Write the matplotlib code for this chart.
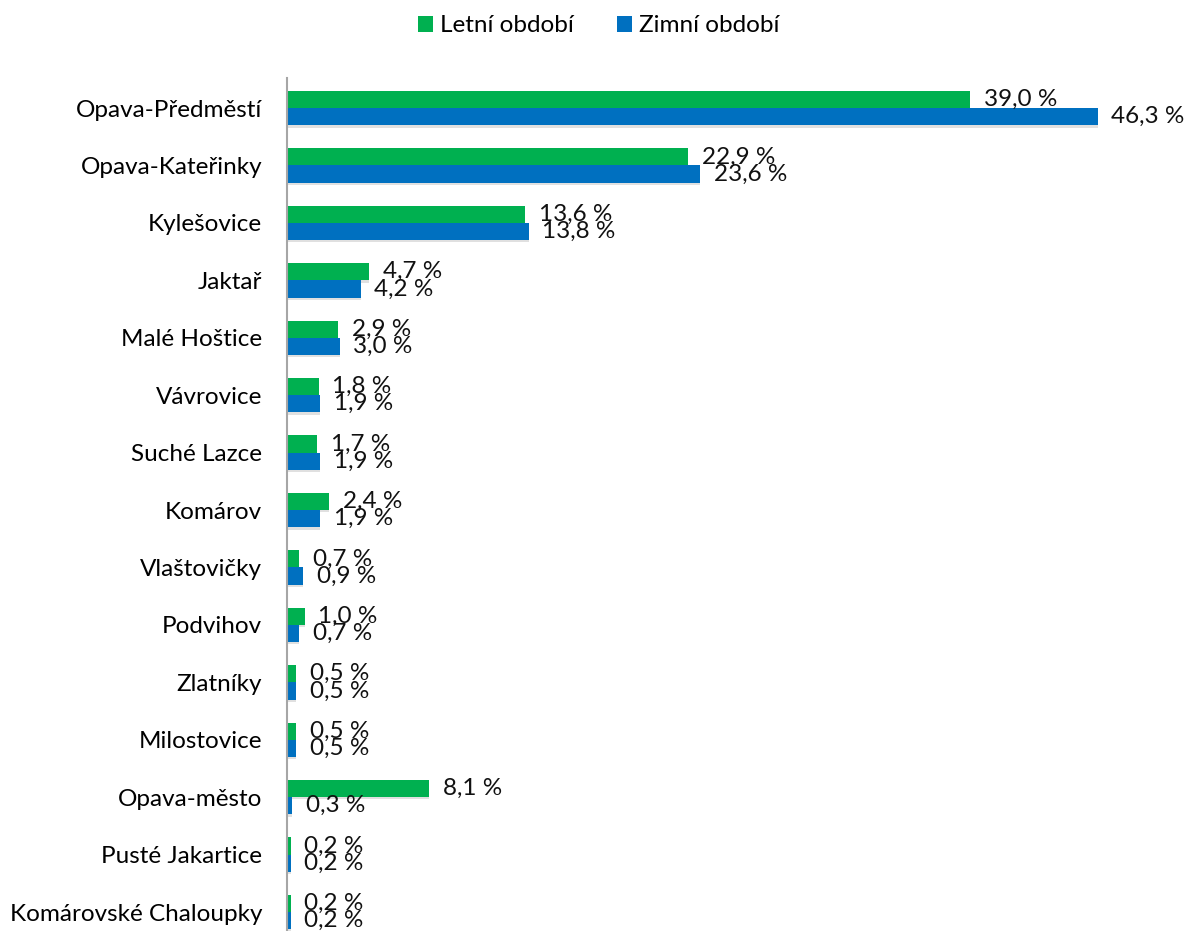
import matplotlib.pyplot as plt
import numpy as np

plt.rcParams['font.family'] = ['Lato', 'DejaVu Sans']

categories = ['Opava-Předměstí', 'Opava-Kateřinky', 'Kylešovice', 'Jaktař', 'Malé Hoštice',
              'Vávrovice', 'Suché Lazce', 'Komárov', 'Vlaštovičky', 'Podvihov', 'Zlatníky',
              'Milostovice', 'Opava-město', 'Pusté Jakartice', 'Komárovské Chaloupky']
letni = [39.0, 22.9, 13.6, 4.7, 2.9, 1.8, 1.7, 2.4, 0.7, 1.0, 0.5, 0.5, 8.1, 0.2, 0.2]
zimni = [46.3, 23.6, 13.8, 4.2, 3.0, 1.9, 1.9, 1.9, 0.9, 0.7, 0.5, 0.5, 0.3, 0.2, 0.2]
series_names = ['Letní období', 'Zimní období']
colors = ['#00B050', '#0070C0']

fig = plt.figure(figsize=(11.86, 9.31), dpi=100)
ax = fig.add_axes([0.242, 0.0, 0.738, 0.916])

fs = 17.5
y = np.arange(len(categories))
h = 0.3
for i, (vals, name, col) in enumerate(zip([letni, zimni], series_names, colors)):
    pos = y - h / 2 + i * h
    # soft shadow under the bars
    ax.barh(pos + 0.04, vals, height=h, color='#e0e0e0', zorder=1)
    ax.barh(pos, vals, height=h, color=col, label=name, zorder=2)
    for p, v in zip(pos, vals):
        ax.annotate(f'{v:.1f} %'.replace('.', ','), (v, p), xytext=(10, 0),
                    textcoords='offset points', va='center', ha='left',
                    fontsize=fs, color='#111111', zorder=3)

ax.set_xlim(0, 50)
ax.set_ylim(14.33, -0.52)
ax.set_yticks(y)
ax.set_yticklabels(categories, fontsize=fs)
ax.tick_params(axis='y', length=0, pad=18)
ax.set_xticks([])
for s in ['top', 'right', 'bottom']:
    ax.spines[s].set_visible(False)
ax.spines['left'].set_color('#a6a6a6')
ax.spines['left'].set_linewidth(1.5)

fig.legend(loc='upper center', bbox_to_anchor=(0.505, 1.007), ncol=2, frameon=False,
           fontsize=fs, handlelength=0.6, handleheight=0.6, handletextpad=0.3,
           columnspacing=1.8)

fig.savefig('out.png', dpi=100)
